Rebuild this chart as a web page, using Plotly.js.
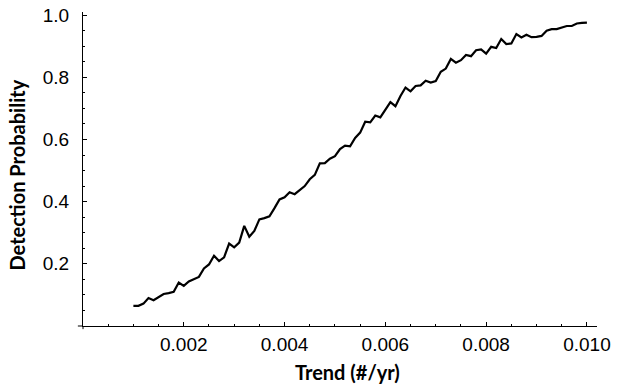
<!DOCTYPE html>
<html>
<head>
<meta charset="utf-8">
<script src="https://cdn.plot.ly/plotly-3.0.1.min.js"></script>
<style>html,body{margin:0;padding:0;background:#fff;}#chart{width:620px;height:387px;}</style>
</head>
<body>
<div id="chart"></div>
<script>
// Trend values (#/yr), 0.0010 to 0.0100 in steps of 0.0001
const trend = [
  0.0010,0.0011,0.0012,0.0013,0.0014,0.0015,0.0016,0.0017,0.0018,0.0019,
  0.0020,0.0021,0.0022,0.0023,0.0024,0.0025,0.0026,0.0027,0.0028,0.0029,
  0.0030,0.0031,0.0032,0.0033,0.0034,0.0035,0.0036,0.0037,0.0038,0.0039,
  0.0040,0.0041,0.0042,0.0043,0.0044,0.0045,0.0046,0.0047,0.0048,0.0049,
  0.0050,0.0051,0.0052,0.0053,0.0054,0.0055,0.0056,0.0057,0.0058,0.0059,
  0.0060,0.0061,0.0062,0.0063,0.0064,0.0065,0.0066,0.0067,0.0068,0.0069,
  0.0070,0.0071,0.0072,0.0073,0.0074,0.0075,0.0076,0.0077,0.0078,0.0079,
  0.0080,0.0081,0.0082,0.0083,0.0084,0.0085,0.0086,0.0087,0.0088,0.0089,
  0.0090,0.0091,0.0092,0.0093,0.0094,0.0095,0.0096,0.0097,0.0098,0.0099,
  0.0100
];
// Detection probability
const detectionProbability = [
  0.065,0.065,0.072,0.090,0.083,0.093,0.103,0.106,0.110,0.140,
  0.129,0.143,0.150,0.158,0.185,0.198,0.226,0.209,0.221,0.265,
  0.253,0.268,0.322,0.287,0.306,0.343,0.347,0.353,0.379,0.407,
  0.414,0.430,0.424,0.437,0.450,0.472,0.486,0.523,0.524,0.538,
  0.546,0.569,0.580,0.578,0.605,0.622,0.657,0.655,0.677,0.671,
  0.697,0.720,0.707,0.740,0.767,0.755,0.772,0.774,0.789,0.783,
  0.788,0.818,0.828,0.859,0.847,0.855,0.872,0.868,0.887,0.890,
  0.876,0.898,0.894,0.923,0.907,0.909,0.939,0.928,0.937,0.929,
  0.930,0.933,0.950,0.955,0.955,0.961,0.965,0.965,0.973,0.975,
  0.976
];
const xTickVals = [0.002, 0.004, 0.006, 0.008, 0.010];
const xTickText = ["0.002", "0.004", "0.006", "0.008", "0.010"];
const yTickVals = [0.2, 0.4, 0.6, 0.8, 1.0];
const yTickText = ["0.2", "0.4", "0.6", "0.8", "1.0"];
const xTitle = "Trend (#/yr)";
const yTitle = "Detection Probability";

const tickFont = {family: "Liberation Sans, Arial, sans-serif", size: 19, color: "#000"};
const titleFont = {family: "Lato, Carlito, sans-serif", size: 20, color: "#000", weight: 700};

Plotly.newPlot("chart", [{
  x: trend,
  y: detectionProbability,
  type: "scatter",
  mode: "lines",
  line: {color: "#000", width: 2.2},
  hoverinfo: "skip"
}], {
  width: 620,
  height: 387,
  margin: {l: 83, r: 23, t: 12, b: 61},
  paper_bgcolor: "#fff",
  plot_bgcolor: "#fff",
  showlegend: false,
  xaxis: {
    range: [0, 0.0102],
    showgrid: false,
    zeroline: false,
    showline: true,
    linecolor: "#000",
    linewidth: 1,
    ticks: "inside",
    ticklen: 4,
    tickwidth: 1,
    tickcolor: "#000",
    tickvals: xTickVals,
    ticktext: xTickText,
    tickfont: tickFont,
    ticklabelstandoff: 1,
    minor: {dtick: 0.0005, tick0: 0, ticks: "inside", ticklen: 2, tickwidth: 1, tickcolor: "#000", showgrid: false}
  },
  yaxis: {
    range: [0, 1.01],
    showgrid: false,
    zeroline: false,
    showline: true,
    linecolor: "#000",
    linewidth: 1,
    ticks: "inside",
    ticklen: 4,
    tickwidth: 1,
    tickcolor: "#000",
    tickvals: yTickVals,
    ticktext: yTickText,
    tickfont: tickFont,
    ticklabelstandoff: 9,
    minor: {dtick: 0.05, tick0: 0, ticks: "inside", ticklen: 2, tickwidth: 1, tickcolor: "#000", showgrid: false}
  },
  annotations: [
    {text: xTitle, xref: "paper", yref: "paper", x: 0.514, y: -0.145, xanchor: "center", yanchor: "middle", showarrow: false, font: titleFont},
    {text: yTitle, xref: "paper", yref: "paper", x: -0.128, y: 0.48, xanchor: "center", yanchor: "middle", textangle: -90, showarrow: false, font: titleFont}
  ],
  shapes: [
    {type: "line", xref: "paper", yref: "paper", x0: -0.01, x1: 0, y0: 0, y1: 0, line: {color: "#000", width: 1}},
    {type: "line", xref: "paper", yref: "paper", x0: 0, x1: 0, y0: -0.01, y1: 0, line: {color: "#000", width: 1}}
  ]
}, {staticPlot: true, displayModeBar: false});
</script>
</body>
</html>
